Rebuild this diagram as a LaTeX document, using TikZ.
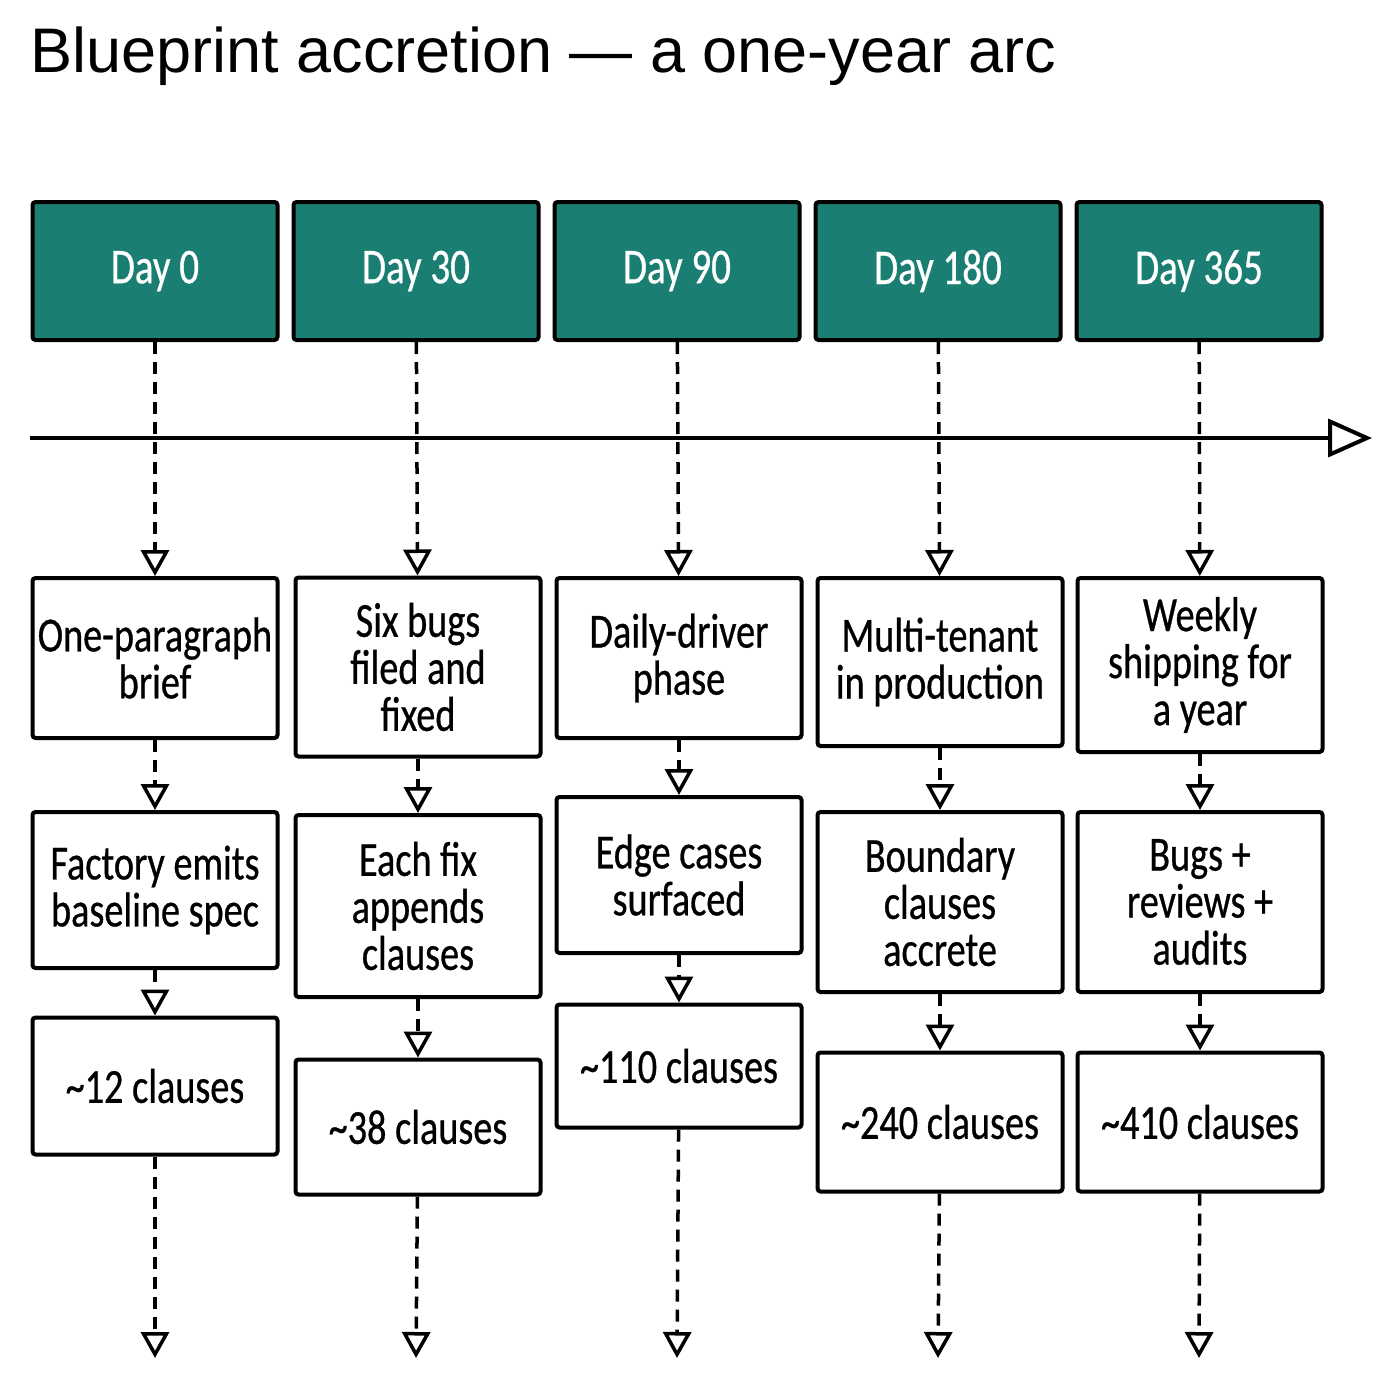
\documentclass[tikz,border=0pt]{standalone}
\usepackage{fontspec}
\setmainfont{Carlito}[FakeStretch=0.78,FakeBold=0.6]
\newfontfamily\titlefont{Liberation Sans}
\usepackage{xcolor}
\usetikzlibrary{positioning,arrows.meta}
\definecolor{dayteal}{HTML}{1A7F72}

\begin{document}
\begin{tikzpicture}[x=1pt,y=-1pt]
\useasboundingbox (0,0) rectangle (1400,1386);
\tikzstyle{daybox}=[draw,line width=4pt,fill=dayteal,text=white,minimum width=245pt,minimum height=138pt,rounded corners=3pt,font=\fontsize{50}{47}\selectfont]
\tikzstyle{stepbox}=[draw,line width=4pt,fill=white,align=center,minimum width=245pt,inner sep=2pt,rounded corners=3pt,font=\fontsize{49}{47}\selectfont]
\tikzstyle{link}=[line width=3.5pt,dash pattern=on 12pt off 8pt,-{Triangle[open,length=26pt,width=28pt]}]

\draw node[anchor=base west,font=\titlefont\fontsize{63}{70}\selectfont] (title) at (27,73) {Blueprint accretion — a one-year arc};

% timeline
\coordinate (t0) at (30,438);
\coordinate (t1) at (1372,438);
\draw[line width=4pt,-{Triangle[open,length=44pt,width=38pt]}] (t0) -- (t1);

\draw node foreach \x/\d in {0/0,1/30,2/90,3/180,4/365} [daybox] (h\x) at (155+261*\x,271) {Day \d};

% first row
\draw node[stepbox,minimum height=160pt] (a0) at (155,658) {One-paragraph\\brief};
\draw node[stepbox,minimum height=179pt] (a1) at (418,667) {Six bugs\\filed and\\fixed};
\draw node[stepbox,minimum height=160pt] (a2) at (679,658) {Daily-driver\\phase};
\draw node[stepbox,minimum height=168pt] (a3) at (940,662) {Multi-tenant\\in production};
\draw node[stepbox,minimum height=174pt] (a4) at (1200,665) {Weekly\\shipping for\\a year};

% second row
\draw node[stepbox,minimum height=156pt] (b0) at (155,890) {Factory emits\\baseline spec};
\draw node[stepbox,minimum height=182pt] (b1) at (418,906) {Each fix\\appends\\clauses};
\draw node[stepbox,minimum height=156pt] (b2) at (679,875) {Edge cases\\surfaced};
\draw node[stepbox,minimum height=180pt] (b3) at (940,902) {Boundary\\clauses\\accrete};
\draw node[stepbox,minimum height=180pt] (b4) at (1200,902) {Bugs +\\reviews +\\audits};

% clause counts
\draw node[stepbox,minimum height=137pt] (c0) at (155,1086) {\textasciitilde 12 clauses};
\draw node[stepbox,minimum height=135pt] (c1) at (418,1127) {\textasciitilde 38 clauses};
\draw node[stepbox,minimum height=123pt] (c2) at (679,1066) {\textasciitilde 110 clauses};
\draw node[stepbox,minimum height=139pt] (c3) at (940,1122) {\textasciitilde 240 clauses};
\draw node[stepbox,minimum height=139pt] (c4) at (1200,1122) {\textasciitilde 410 clauses};

\foreach \x in {0,...,4}
  \coordinate (e\x) at (155+261*\x,1358);

\foreach \x in {0,...,4} {
  \draw[link] (h\x) -- (a\x);
  \draw[link] (a\x) -- (b\x);
  \draw[link] (b\x) -- (c\x);
  \draw[link] (c\x) -- (e\x);
}
\end{tikzpicture}
\end{document}
